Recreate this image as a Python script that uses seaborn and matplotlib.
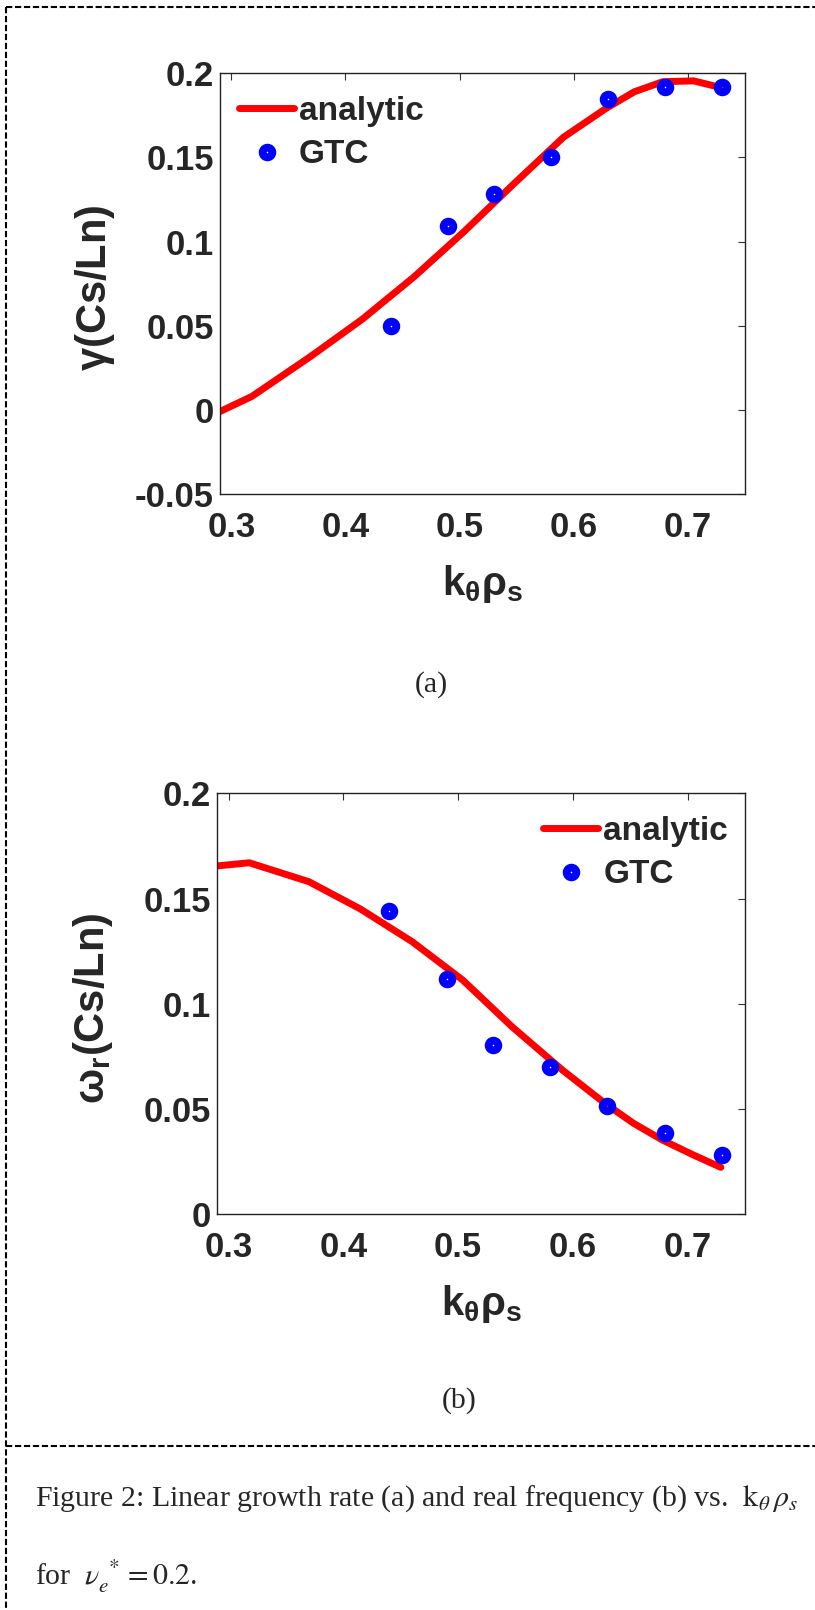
import matplotlib
matplotlib.use("Agg")
import matplotlib.pyplot as plt
from matplotlib.lines import Line2D
import seaborn as sns

# analytic curves
k_analytic = [0.29, 0.318, 0.37, 0.415, 0.46, 0.504, 0.547, 0.591, 0.628, 0.653, 0.678, 0.705, 0.729]
gamma_analytic = [-0.001, 0.008, 0.032, 0.054, 0.079, 0.106, 0.134, 0.162, 0.179, 0.189, 0.195, 0.1955, 0.1915]
omega_analytic = [0.1655, 0.167, 0.158, 0.145, 0.1295, 0.1113, 0.0891, 0.0685, 0.0527, 0.0432, 0.0353, 0.0282, 0.0223]

# GTC simulation points
k_gtc = [0.44, 0.49, 0.53, 0.58, 0.63, 0.68, 0.73]
gamma_gtc = [0.050, 0.109, 0.128, 0.150, 0.1845, 0.192, 0.192]
omega_gtc = [0.144, 0.112, 0.0805, 0.070, 0.0515, 0.0385, 0.0282]

x_ticks = [0.3, 0.4, 0.5, 0.6, 0.7]
x_ticklabels = ["0.3", "0.4", "0.5", "0.6", "0.7"]
gamma_ticks = [-0.05, 0, 0.05, 0.1, 0.15, 0.2]
gamma_ticklabels = ["-0.05", "0", "0.05", "0.1", "0.15", "0.2"]
omega_ticks = [0, 0.05, 0.1, 0.15, 0.2]
omega_ticklabels = ["0", "0.05", "0.1", "0.15", "0.2"]

sns.set_style("white")
plt.rcParams["font.family"] = ["Liberation Sans", "DejaVu Sans"]
plt.rcParams["mathtext.fontset"] = "custom"
plt.rcParams["mathtext.rm"] = "Liberation Sans:bold"
plt.rcParams["mathtext.it"] = "Liberation Sans:bold"
plt.rcParams["mathtext.bf"] = "Liberation Sans:bold"
plt.rcParams["mathtext.sf"] = "Liberation Sans:bold"
plt.rcParams["mathtext.default"] = "rm"

W, H = 815, 1610
fig = plt.figure(figsize=(W / 100, H / 100), dpi=100)


def px_rect(l, t, r, b):
    return [l / W, 1 - b / H, (r - l) / W, (b - t) / H]


def panel(ax, y_analytic, y_gtc, yticks, yticklabels, ylim, ylabel,
          label_xy, ylabel_xy, leg_loc, leg_anchor):
    sns.lineplot(x=k_analytic, y=y_analytic, ax=ax, color="red", linewidth=5,
                 sort=False, errorbar=None, label="analytic", legend=False)
    sns.lineplot(x=k_gtc, y=y_gtc, ax=ax, color="blue", linestyle="none",
                 marker="o", markersize=7.0, markeredgewidth=5.6,
                 markerfacecolor="none", markeredgecolor="blue",
                 sort=False, errorbar=None, label="GTC", legend=False)
    ax.set_xlim(0.2897, 0.7504)
    ax.set_ylim(*ylim)
    ax.set_xticks(x_ticks, x_ticklabels)
    ax.set_yticks(yticks, yticklabels)
    ax.tick_params(direction="in", top=True, right=True, length=5, width=0.8,
                   labelsize=25, color="#333333")
    ax.tick_params(axis="x", pad=12)
    ax.tick_params(axis="y", pad=4)
    for lbl in ax.get_xticklabels() + ax.get_yticklabels():
        lbl.set_fontweight("bold")
    for sp in ax.spines.values():
        sp.set_linewidth(1.0)
        sp.set_color("#222222")
    ax.set_xlabel(r"$k_{\theta}\rho_{s}$", fontsize=29)
    ax.xaxis.set_label_coords(*label_xy)
    ax.set_ylabel(ylabel, fontsize=30, fontweight="bold")
    ax.yaxis.set_label_coords(*ylabel_xy)
    handles = ax.get_lines()[:2]
    ax.legend(handles, ["analytic", "GTC"], loc=leg_loc, bbox_to_anchor=leg_anchor,
              frameon=False, borderpad=0, borderaxespad=0, handlelength=1.65,
              handletextpad=0.15, labelspacing=0.38,
              prop={"size": 24, "weight": "bold"})


ax1 = fig.add_axes(px_rect(219.6, 73.3, 745.4, 494))
panel(ax1, gamma_analytic, gamma_gtc, gamma_ticks, gamma_ticklabels, (-0.05, 0.2),
      r"$\gamma$(Cs/Ln)", (0.5, -0.164), (-0.195, 0.49),
      "upper left", (0.037, 0.9465))

ax2 = fig.add_axes(px_rect(216.8, 793.3, 745.4, 1214.3))
panel(ax2, omega_analytic, omega_gtc, omega_ticks, omega_ticklabels, (0, 0.2),
      r"$\omega_{r}$(Cs/Ln)", (0.5, -0.164), (-0.192, 0.49),
      "upper right", (0.967, 0.9466))

serif = dict(family=["Liberation Serif", "DejaVu Serif"], weight="normal",
             fontsize=21.5, math_fontfamily="stix")
fig.text(431 / W, 1 - 685 / H, "(a)", ha="center", va="center", **serif)
fig.text(459 / W, 1 - 1401 / H, "(b)", ha="center", va="center", **serif)
fig.text(35 / W, 1 - 1506 / H,
         r"Figure 2: Linear growth rate (a) and real frequency (b) vs.  "
         r"$\mathrm{k}_{\mathit{\theta}}\,\mathit{\rho}_{\mathit{s}}$",
         ha="left", va="baseline", **serif)
fig.text(35 / W, 1 - 1585 / H, r"for  $\mathit{\nu}_{\mathit{e}}^{\ *}=0.2$.",
         ha="left", va="baseline", **serif)

# dashed frame of the figure box
dash = dict(color="black", linewidth=1.5, linestyle=(0, (3, 1.3)),
            transform=fig.transFigure)
fig.add_artist(Line2D([6 / W, 1], [1 - 7 / H, 1 - 7 / H], **dash))
fig.add_artist(Line2D([6 / W, 6 / W], [1 - 7 / H, 0], **dash))
fig.add_artist(Line2D([6 / W, 1], [1 - 1446 / H, 1 - 1446 / H], **dash))

fig.savefig("out.png", dpi=100)
